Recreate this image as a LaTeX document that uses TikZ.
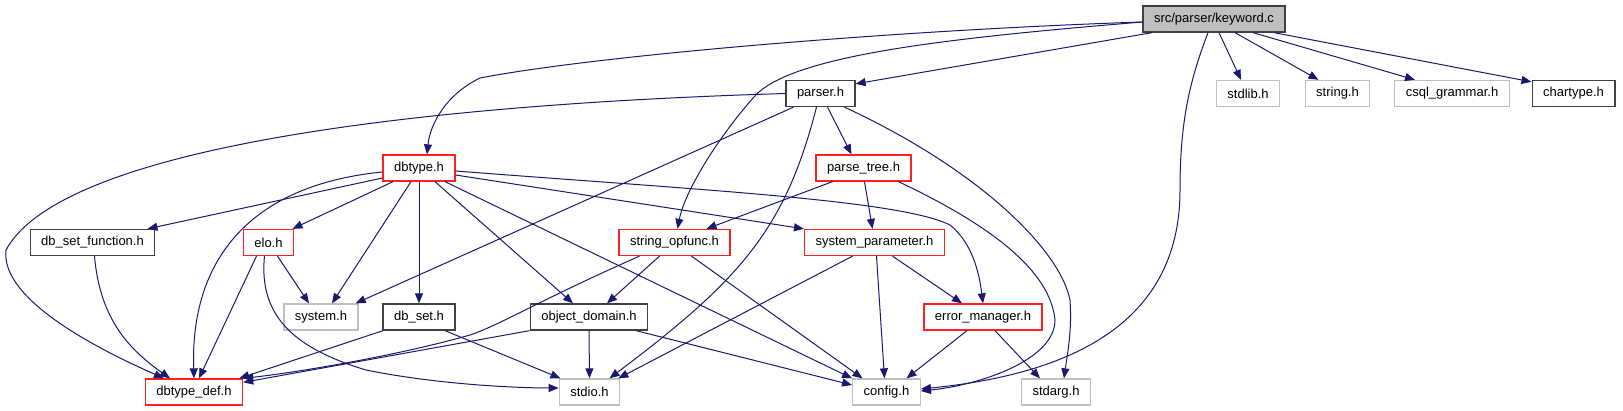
\documentclass[tikz,border=0pt]{standalone}
\usepackage{fontspec}
\setmainfont{Liberation Sans}
\usetikzlibrary{arrows.meta}

\definecolor{edgeblue}{HTML}{191970}
\definecolor{boxred}{HTML}{FF2020}
\definecolor{boxgray}{HTML}{BFBFBF}
\definecolor{boxdark}{HTML}{404040}

\begin{document}
\begin{tikzpicture}[x=1pt, y=-1pt,
	every node/.style={font=\fontsize{13}{15}\selectfont, inner xsep=11pt, inner ysep=0pt, minimum height=26pt, line width=1.3pt},
	file/.style={draw=boxdark},
	redfile/.style={draw=boxred},
	sysfile/.style={draw=boxgray},
	dep/.style={->, edgeblue, line width=1pt},
	>={Triangle[length=10pt, width=8pt]}]
	\useasboundingbox (0,0) rectangle (1623,411);
	\node[file, fill=boxgray] (keyword) at (1214,19) {src/parser/keyword.c};
	\node[file] (parser) at (820.5,93.5) {parser.h};
	\node[sysfile] (stdlib) at (1248,93.5) {stdlib.h};
	\node[sysfile] (string) at (1337.5,93.5) {string.h};
	\node[sysfile] (csql) at (1452,93.5) {csql\_grammar.h};
	\node[file] (chartype) at (1573.5,93.5) {chartype.h};
	\node[redfile] (dbtype) at (419,168) {dbtype.h};
	\node[redfile] (parsetree) at (863.5,168) {parse\_tree.h};
	\node[file] (dbsetfunc) at (92.5,242.5) {db\_set\_function.h};
	\node[redfile] (elo) at (268.5,242.5) {elo.h};
	\node[redfile] (stropfunc) at (674.5,242.5) {string\_opfunc.h};
	\node[redfile] (sysparam) at (874.5,242.5) {system\_parameter.h};
	\node[sysfile] (system) at (321,317) {system.h};
	\node[file] (dbset) at (419,317) {db\_set.h};
	\node[file] (objdomain) at (589,317) {object\_domain.h};
	\node[redfile] (errmgr) at (983,317) {error\_manager.h};
	\node[redfile] (dbtypedef) at (194,392) {dbtype\_def.h};
	\node[sysfile] (stdio) at (589.5,392) {stdio.h};
	\node[sysfile] (config) at (886.5,392) {config.h};
	\node[sysfile] (stdarg) at (1056,392) {stdarg.h};

	\draw[dep] ([yshift=-3pt]keyword.west) .. controls (900,30) and (600,55) .. (480,78) .. controls (445,95) and (430,125) .. ([xshift=8pt]dbtype.north);
	\draw[dep] ([yshift=-3pt]keyword.west) .. controls (950,38) and (790,55) .. (754,97) .. controls (720,135) and (685,190) .. ([xshift=3pt]stropfunc.north);
	\draw[dep] ([xshift=-62pt]keyword.south) -- ([yshift=-4pt]parser.north east);
	\draw[dep] ([xshift=5pt]keyword.south) -- ([xshift=-7pt]stdlib.north);
	\draw[dep] ([xshift=21pt]keyword.south) -- ([xshift=-19pt]string.north);
	\draw[dep] ([xshift=39pt]keyword.south) -- ([xshift=-37pt]csql.north);
	\draw[dep] ([xshift=60pt]keyword.south) -- ([yshift=-2pt]chartype.north west);
	\draw[dep] ([xshift=-6pt]keyword.south) .. controls (1190,80) and (1180,120) .. (1180,190) .. controls (1180,330) and (1060,375) .. ([yshift=3pt]config.east);

	\draw[dep] (parser.west) .. controls (400,105) and (60,150) .. (6,250) .. controls (0,300) and (100,350) .. ([xshift=-30pt]dbtypedef.north);
	\draw[dep] ([xshift=-27pt]parser.south) -- ([xshift=-3pt]system.north east);
	\draw[dep] ([xshift=-4pt]parser.south) .. controls (785,230) and (740,280) .. ([xshift=20pt]stdio.north);
	\draw[dep] ([xshift=7pt]parser.south) -- ([xshift=-12pt]parsetree.north);
	\draw[dep] ([xshift=24pt]parser.south) .. controls (980,170) and (1060,250) .. (1070,300) .. controls (1072,330) and (1068,350) .. ([xshift=8pt]stdarg.north);

	\draw[dep] ([yshift=-10pt]dbtype.west) -- ([xshift=-8pt]dbsetfunc.north east);
	\draw[dep] ([yshift=-4pt]dbtype.west) .. controls (250,185) and (190,260) .. (dbtypedef.north);
	\draw[dep] ([xshift=-26pt]dbtype.south) -- ([xshift=24pt]elo.north);
	\draw[dep] ([xshift=-8pt]dbtype.south) -- ([xshift=11pt]system.north);
	\draw[dep] (dbtype) -- (dbset);
	\draw[dep] ([xshift=16pt]dbtype.south) -- ([xshift=-16pt]objdomain.north);
	\draw[dep] ([xshift=26pt]dbtype.south) -- (config.north west);
	\draw[dep] ([yshift=-7pt]dbtype.east) -- (sysparam.north west);
	\draw[dep] ([yshift=-3pt]dbtype.east) .. controls (700,190) and (900,200) .. (950,225) .. controls (975,245) and (980,280) .. (errmgr.north);

	\draw[dep] ([xshift=-31pt]parsetree.south) -- ([xshift=32pt]stropfunc.north);
	\draw[dep] ([xshift=1pt]parsetree.south) -- ([xshift=-2pt]sysparam.north);
	\draw[dep] ([xshift=35pt]parsetree.south) .. controls (990,225) and (1050,270) .. (1055,320) .. controls (1055,360) and (980,385) .. ([yshift=1pt]config.east);

	\draw[dep] ([xshift=-35pt]stropfunc.south) .. controls (540,300) and (500,325) .. (470,335) .. controls (400,355) and (300,372) .. (dbtypedef.north east);
	\draw[dep] ([xshift=-15pt]stropfunc.south) -- ([xshift=18pt]objdomain.north);
	\draw[dep] ([xshift=17pt]stropfunc.south) -- ([xshift=-24pt]config.north);
	\draw[dep] ([xshift=-22pt]sysparam.south) -- ([xshift=-2pt]stdio.north east);
	\draw[dep] ([xshift=2pt]sysparam.south) -- ([xshift=-2pt]config.north);
	\draw[dep] ([xshift=18pt]sysparam.south) -- ([xshift=-21pt]errmgr.north);

	\draw[dep] ([xshift=9pt]elo.south) -- ([xshift=-12pt]system.north);
	\draw[dep] ([xshift=-12pt]elo.south) -- ([xshift=5pt]dbtypedef.north);
	\draw[dep] ([xshift=-4pt]elo.south) .. controls (258,320) and (300,350) .. (366,370) .. controls (440,385) and (520,388) .. ([yshift=4pt]stdio.west);
	\draw[dep] ([xshift=2pt]dbsetfunc.south) .. controls (100,320) and (130,350) .. ([xshift=-24pt]dbtypedef.north);

	\draw[dep] ([xshift=-36pt]dbset.south) -- ([xshift=-4pt]dbtypedef.north east);
	\draw[dep] ([xshift=26pt]dbset.south) -- ([xshift=-29pt]stdio.north);
	\draw[dep] (objdomain.south west) -- ([yshift=-4pt]dbtypedef.north east);
	\draw[dep] (objdomain.south) -- (stdio.north);
	\draw[dep] ([xshift=47pt]objdomain.south) -- ([yshift=7pt]config.west);
	\draw[dep] ([xshift=-16pt]errmgr.south) -- ([xshift=20pt]config.north);
	\draw[dep] ([xshift=12pt]errmgr.south) -- ([xshift=-16pt]stdarg.north);
\end{tikzpicture}
\end{document}
